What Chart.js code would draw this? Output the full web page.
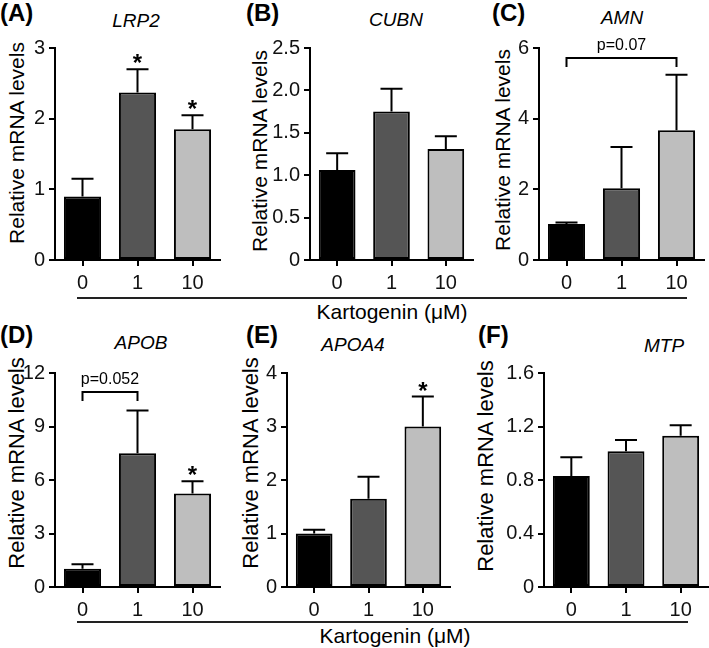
<!DOCTYPE html>
<html>
<head>
<meta charset="utf-8">
<script src="https://cdn.jsdelivr.net/npm/chart.js@4.4.1/dist/chart.umd.min.js"></script>
<style>
  body { margin: 0; background: #fff; }
  #fig { position: relative; width: 709px; height: 648px; overflow: hidden; font-family: "Liberation Sans", Arial, sans-serif; color: #000; }
  #fig canvas { position: absolute; }
  .lbl { position: absolute; font-weight: bold; font-size: 24px; }
  .gene { position: absolute; font-style: italic; font-size: 19px; transform: translate(-50%, -50%); white-space: nowrap; }
  .ytitle { position: absolute; font-size: 21px; transform: translate(-50%, -50%) rotate(-90deg); white-space: nowrap; }
  .ytitle.low { font-size: 22px; }
  .xline { position: absolute; height: 2px; background: #222; }
  .xtitle { position: absolute; font-size: 21px; transform: translate(-50%, -50%); white-space: nowrap; }
</style>
</head>
<body>
<div id="fig">
  <div class="lbl" style="left:0px;top:-1px">(A)</div>
  <div class="lbl" style="left:246px;top:-1px">(B)</div>
  <div class="lbl" style="left:492px;top:-1px">(C)</div>
  <div class="lbl" style="left:0px;top:321px">(D)</div>
  <div class="lbl" style="left:246px;top:321px">(E)</div>
  <div class="lbl" style="left:478px;top:321px">(F)</div>

  <div class="gene" style="left:136px;top:21px">LRP2</div>
  <div class="gene" style="left:396px;top:20px">CUBN</div>
  <div class="gene" style="left:622px;top:18px">AMN</div>
  <div class="gene" style="left:141px;top:343px">APOB</div>
  <div class="gene" style="left:353px;top:345px">APOA4</div>
  <div class="gene" style="left:664px;top:346px">MTP</div>

  <div class="ytitle" style="left:17px;top:143px">Relative mRNA levels</div>
  <div class="ytitle" style="left:260px;top:151px">Relative mRNA levels</div>
  <div class="ytitle" style="left:503px;top:150px">Relative mRNA levels</div>
  <div class="ytitle low" style="left:17px;top:463px">Relative mRNA levels</div>
  <div class="ytitle low" style="left:251px;top:463px">Relative mRNA levels</div>
  <div class="ytitle low" style="left:486px;top:466px">Relative mRNA levels</div>

  <div class="xline" style="left:77px;top:297px;width:610px"></div>
  <div class="xtitle" style="left:392px;top:312px">Kartogenin (μM)</div>
  <div class="xline" style="left:77px;top:621px;width:611px"></div>
  <div class="xtitle" style="left:395px;top:636px">Kartogenin (μM)</div>

  <canvas id="cA" width="219" height="265" style="left:5px;top:30px"></canvas>
  <canvas id="cB" width="217" height="265" style="left:260px;top:30px"></canvas>
  <canvas id="cC" width="219" height="265" style="left:489px;top:30px"></canvas>
  <canvas id="cD" width="219" height="267" style="left:5px;top:355px"></canvas>
  <canvas id="cE" width="217" height="267" style="left:237px;top:355px"></canvas>
  <canvas id="cF" width="218" height="267" style="left:494px;top:355px"></canvas>
</div>

<script>
// Kartogenin doses (uM)
const doses = ['0', '1', '10'];

// mean and top of SEM bar for each gene
const lrp2Mean = [0.9, 2.37, 1.85];
const lrp2Err = [1.15, 2.7, 2.05];
const cubnMean = [1.06, 1.75, 1.31];
const cubnErr = [1.26, 2.02, 1.46];
const amnMean = [1.02, 2.03, 3.67];
const amnErr = [1.06, 3.2, 5.24];
const apobMean = [1.03, 7.5, 5.25];
const apobErr = [1.28, 9.9, 5.93];
const apoa4Mean = [1.0, 1.65, 3.0];
const apoa4Err = [1.07, 2.06, 3.56];
const mtpMean = [0.83, 1.015, 1.13];
const mtpErr = [0.97, 1.1, 1.21];

// y tick values and labels
const lrp2Ticks = [0, 1, 2, 3];
const lrp2TickLabels = ['0', '1', '2', '3'];
const cubnTicks = [0, 0.5, 1, 1.5, 2, 2.5];
const cubnTickLabels = ['0', '0.5', '1.0', '1.5', '2.0', '2.5'];
const amnTicks = [0, 2, 4, 6];
const amnTickLabels = ['0', '2', '4', '6'];
const apobTicks = [0, 3, 6, 9, 12];
const apobTickLabels = ['0', '3', '6', '9', '12'];
const apoa4Ticks = [0, 1, 2, 3, 4];
const apoa4TickLabels = ['0', '1', '2', '3', '4'];
const mtpTicks = [0, 0.4, 0.8, 1.2, 1.6];
const mtpTickLabels = ['0', '0.4', '0.8', '1.2', '1.6'];

// significance marks: bars with *, brackets [from, to, level, text]
const lrp2Stars = [1, 2];
const apobStars = [2];
const apoa4Stars = [2];
const amnBracket = [0, 2, 5.72, 'p=0.07'];
const apobBracket = [0, 1, 10.94, 'p=0.052'];

const barColors = ['#000000', '#555555', '#bebebe'];
const FONT = '"Liberation Sans", Arial, sans-serif';
Chart.defaults.font.family = FONT;
Chart.defaults.color = '#000';

const marks = {
    id: 'marks',
    afterDatasetsDraw(chart, args, opts) {
        const ctx = chart.ctx;
        const y = chart.scales.y;
        const meta = chart.getDatasetMeta(0);
        ctx.save();
        ctx.strokeStyle = '#000';
        ctx.fillStyle = '#000';
        ctx.lineWidth = 2;
        opts.err.forEach(function (e, i) {
            const bar = meta.data[i];
            const top = y.getPixelForValue(e);
            ctx.beginPath();
            ctx.moveTo(bar.x, bar.y);
            ctx.lineTo(bar.x, top);
            ctx.moveTo(bar.x - 11, top);
            ctx.lineTo(bar.x + 11, top);
            ctx.stroke();
        });
        ctx.textAlign = 'center';
        ctx.textBaseline = 'alphabetic';
        ctx.font = 'bold 24px ' + FONT;
        (opts.stars || []).forEach(function (i) {
            const bar = meta.data[i];
            ctx.fillText('*', bar.x, y.getPixelForValue(opts.err[i]) + 2);
        });
        if (opts.bracket) {
            const b = opts.bracket;
            const x0 = meta.data[b[0]].x, x1 = meta.data[b[1]].x;
            const by = Math.round(y.getPixelForValue(b[2]));
            ctx.lineWidth = 2;
            ctx.beginPath();
            ctx.moveTo(x0, by + 9);
            ctx.lineTo(x0, by);
            ctx.lineTo(x1, by);
            ctx.lineTo(x1, by + 9);
            ctx.stroke();
            ctx.font = '16px ' + FONT;
            ctx.textBaseline = 'middle';
            ctx.fillText(b[3], (x0 + x1) / 2, by - 12);
        }
        ctx.restore();
    }
};

function makePanel(id, mean, err, ticks, tickLabels, stars, bracket, padTop, xHeight) {
    const el = document.getElementById(id).getContext('2d');
    return new Chart(el, {
        type: 'bar',
        data: {
            labels: doses,
            datasets: [{
                data: mean,
                backgroundColor: barColors,
                borderColor: '#000',
                borderWidth: 2,
                borderSkipped: false,
                barPercentage: 0.75,
                categoryPercentage: 0.9
            }]
        },
        options: {
            responsive: false,
            animation: false,
            layout: { padding: { top: padTop, right: 4, left: 0, bottom: 0 } },
            plugins: {
                legend: { display: false },
                tooltip: { enabled: false },
                marks: { err: err, stars: stars, bracket: bracket }
            },
            scales: {
                x: {
                    grid: { offset: false, drawOnChartArea: false, color: '#000', lineWidth: 2, tickLength: 6 },
                    border: { color: '#000', width: 2 },
                    ticks: { font: { size: 20 }, padding: 5, color: '#111' },
                    afterFit: function (s) { s.height = xHeight; }
                },
                y: {
                    min: 0,
                    max: ticks[ticks.length - 1],
                    grid: { drawOnChartArea: false, color: '#000', lineWidth: 2, tickLength: 6 },
                    border: { color: '#000', width: 2 },
                    ticks: {
                        font: { size: 20 }, padding: 4, color: '#111',
                        callback: function (v, i) { return tickLabels[i]; }
                    },
                    afterBuildTicks: function (s) { s.ticks = ticks.map(function (v) { return { value: v }; }); },
                    afterFit: function (s) { s.width = 50; }
                }
            }
        },
        plugins: [marks]
    });
}

makePanel('cA', lrp2Mean, lrp2Err, lrp2Ticks, lrp2TickLabels, lrp2Stars, null, 18, 35);
makePanel('cB', cubnMean, cubnErr, cubnTicks, cubnTickLabels, [], null, 18, 35);
makePanel('cC', amnMean, amnErr, amnTicks, amnTickLabels, [], amnBracket, 18, 35);
makePanel('cD', apobMean, apobErr, apobTicks, apobTickLabels, apobStars, apobBracket, 18, 35);
makePanel('cE', apoa4Mean, apoa4Err, apoa4Ticks, apoa4TickLabels, apoa4Stars, null, 18, 35);
makePanel('cF', mtpMean, mtpErr, mtpTicks, mtpTickLabels, [], null, 18, 35);
</script>
</body>
</html>
